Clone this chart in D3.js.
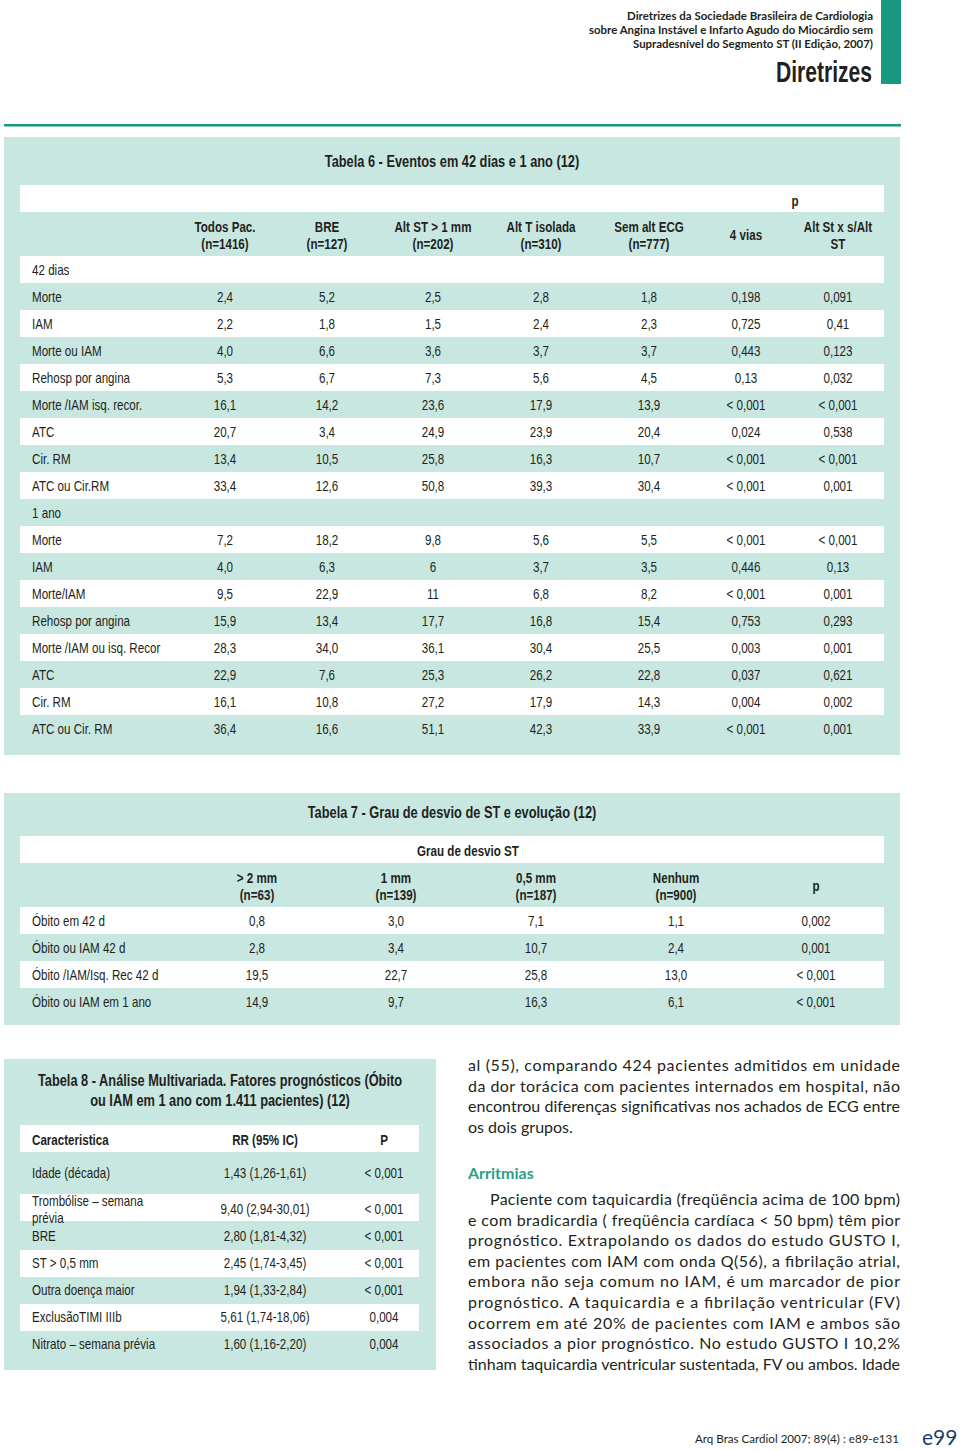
<!DOCTYPE html>
<html>
<head>
<meta charset="utf-8">
<script src="https://cdn.jsdelivr.net/npm/d3@7"></script>
<style>
  body { margin: 0; background: #fff; }
  svg { display: block; }
</style>
</head>
<body>
<div id="page"></div>
<script>
// --- Tabela 6 ---
const t6Columns = ["Todos Pac.|(n=1416)", "BRE|(n=127)", "Alt ST > 1 mm|(n=202)", "Alt T isolada|(n=310)", "Sem alt ECG|(n=777)", "4 vias", "Alt St x s/Alt|ST"];
const t6Labels = ["42 dias", "Morte", "IAM", "Morte ou IAM", "Rehosp por angina", "Morte /IAM isq. recor.", "ATC", "Cir. RM", "ATC ou Cir.RM",
  "1 ano", "Morte", "IAM", "Morte/IAM", "Rehosp por angina", "Morte /IAM ou isq. Recor", "ATC", "Cir. RM", "ATC ou Cir. RM"];
const t6Values = [
  null,
  ["2,4", "5,2", "2,5", "2,8", "1,8", "0,198", "0,091"],
  ["2,2", "1,8", "1,5", "2,4", "2,3", "0,725", "0,41"],
  ["4,0", "6,6", "3,6", "3,7", "3,7", "0,443", "0,123"],
  ["5,3", "6,7", "7,3", "5,6", "4,5", "0,13", "0,032"],
  ["16,1", "14,2", "23,6", "17,9", "13,9", "< 0,001", "< 0,001"],
  ["20,7", "3,4", "24,9", "23,9", "20,4", "0,024", "0,538"],
  ["13,4", "10,5", "25,8", "16,3", "10,7", "< 0,001", "< 0,001"],
  ["33,4", "12,6", "50,8", "39,3", "30,4", "< 0,001", "0,001"],
  null,
  ["7,2", "18,2", "9,8", "5,6", "5,5", "< 0,001", "< 0,001"],
  ["4,0", "6,3", "6", "3,7", "3,5", "0,446", "0,13"],
  ["9,5", "22,9", "11", "6,8", "8,2", "< 0,001", "0,001"],
  ["15,9", "13,4", "17,7", "16,8", "15,4", "0,753", "0,293"],
  ["28,3", "34,0", "36,1", "30,4", "25,5", "0,003", "0,001"],
  ["22,9", "7,6", "25,3", "26,2", "22,8", "0,037", "0,621"],
  ["16,1", "10,8", "27,2", "17,9", "14,3", "0,004", "0,002"],
  ["36,4", "16,6", "51,1", "42,3", "33,9", "< 0,001", "0,001"]
];

// --- Tabela 7 ---
const t7Columns = ["> 2 mm|(n=63)", "1 mm|(n=139)", "0,5 mm|(n=187)", "Nenhum|(n=900)", "p"];
const t7Labels = ["Óbito em 42 d", "Óbito ou IAM 42 d", "Óbito /IAM/Isq. Rec 42 d", "Óbito ou IAM em 1 ano"];
const t7Values = [
  ["0,8", "3,0", "7,1", "1,1", "0,002"],
  ["2,8", "3,4", "10,7", "2,4", "0,001"],
  ["19,5", "22,7", "25,8", "13,0", "< 0,001"],
  ["14,9", "9,7", "16,3", "6,1", "< 0,001"]
];

// --- Tabela 8 ---
const t8Labels = ["Idade (década)", "Trombólise – semana|prévia", "BRE", "ST > 0,5 mm", "Outra doença maior", "ExclusãoTIMI IIIb", "Nitrato – semana prévia"];
const t8RR = ["1,43 (1,26-1,61)", "9,40 (2,94-30,01)", "2,80 (1,81-4,32)", "2,45 (1,74-3,45)", "1,94 (1,33-2,84)", "5,61 (1,74-18,06)", "1,60 (1,16-2,20)"];
const t8P = ["< 0,001", "< 0,001", "< 0,001", "< 0,001", "< 0,001", "0,004", "0,004"];

// texto corrido
const introLines = [
  "al (55), comparando 424 pacientes admitidos em unidade",
  "da dor torácica com pacientes internados em hospital, não",
  "encontrou diferenças significativas nos achados de ECG entre",
  "os dois grupos."
];
const arritmiasLines = [
  "Paciente com taquicardia (freqüência acima de 100 bpm)",
  "e com bradicardia ( freqüência cardíaca < 50 bpm) têm pior",
  "prognóstico. Extrapolando os dados do estudo GUSTO I,",
  "em pacientes com IAM com onda Q(56), a fibrilação atrial,",
  "embora não seja comum no IAM, é um marcador de pior",
  "prognóstico. A taquicardia e a fibrilação ventricular (FV)",
  "ocorrem em até 20% de pacientes com IAM e ambos são",
  "associados a pior prognóstico. No estudo GUSTO I 10,2%",
  "tinham taquicardia ventricular sustentada, FV ou ambos. Idade"
];
const headerLines = [
  "Diretrizes da Sociedade Brasileira de Cardiologia",
  "sobre Angina Instável e Infarto Agudo do Miocárdio sem",
  "Supradesnível do Segmento ST (II Edição, 2007)"
];

const MINT = "#c9e7e1";
const TEAL = "#17987f";
const INK = "#231f20";
const SANS = "'Liberation Sans', Arial, sans-serif";
const BODY = "Lato, 'Open Sans', sans-serif";
const SQUEEZE = 0.8; // efeito Arial Narrow
const FS = 14.5;     // corpo das tabelas
const FT = 16;       // títulos das tabelas

const svg = d3.select("#page").append("svg")
  .attr("width", 960).attr("height", 1451);

// cabeçalho
const hdr = svg.append("g").attr("font-family", BODY).attr("font-weight", 700)
  .attr("font-size", 11.5).attr("fill", INK).attr("text-anchor", "end");
const hdrWidths = [246, 284, 240];
headerLines.forEach((t, i) => {
  hdr.append("text").attr("x", 873).attr("y", 20 + i * 14)
    .attr("textLength", hdrWidths[i]).attr("lengthAdjust", "spacingAndGlyphs").text(t);
});
svg.append("text").attr("x", 872).attr("y", 82).attr("text-anchor", "end")
  .attr("font-family", SANS).attr("font-weight", 700).attr("font-size", 29)
  .attr("fill", INK).attr("textLength", 96).attr("lengthAdjust", "spacingAndGlyphs").text("Diretrizes");
svg.append("rect").attr("x", 881).attr("y", 0).attr("width", 20).attr("height", 84).attr("fill", TEAL);
svg.append("rect").attr("x", 4).attr("y", 124).attr("width", 897).attr("height", 2.5).attr("fill", TEAL);

function multiline(sel, label, cy, lh) {
  const parts = label.split("|");
  parts.forEach((p, i) => {
    sel.append("tspan").attr("x", sel.attr("x"))
      .attr("y", cy + (i - (parts.length - 1) / 2) * lh + 5).text(p);
  });
}

// ---------- Tabela 6 ----------
const t6 = svg.append("g").attr("class", "narrow").attr("font-family", SANS).attr("fill", INK);
t6.append("rect").attr("x", 4).attr("y", 137).attr("width", 896).attr("height", 618).attr("fill", MINT);
t6.append("text").attr("x", 452).attr("y", 167).attr("text-anchor", "middle")
  .attr("font-weight", 700).attr("font-size", FT).text("Tabela 6 - Eventos em 42 dias e 1 ano (12)");
t6.append("rect").attr("x", 20).attr("y", 185).attr("width", 864).attr("height", 27).attr("fill", "#fff");
t6.append("text").attr("x", 795).attr("y", 206).attr("text-anchor", "middle")
  .attr("font-weight", 700).attr("font-size", FS).text("p");

const x6 = d3.scaleOrdinal().domain(t6Columns).range([225, 327, 433, 541, 649, 746, 838]);
const y6 = d3.scaleBand().domain(d3.range(t6Labels.length)).range([256, 256 + 27 * t6Labels.length]);

t6Columns.forEach(c => {
  const t = t6.append("text").attr("x", x6(c)).attr("text-anchor", "middle")
    .attr("font-weight", 700).attr("font-size", FS);
  multiline(t, c, 235, 17);
});

const rows6 = t6.selectAll("g.row").data(t6Labels.map((l, i) => ({ label: l, vals: t6Values[i], i })))
  .join("g").attr("class", "row");
rows6.append("rect").attr("x", 20).attr("width", 864)
  .attr("y", d => y6(d.i)).attr("height", y6.bandwidth())
  .attr("fill", d => d.i % 2 === 0 ? "#fff" : MINT);
rows6.append("text").attr("x", 32).attr("y", d => y6(d.i) + 18.5).attr("font-size", FS).text(d => d.label);
rows6.each(function(d) {
  if (!d.vals) return;
  d3.select(this).selectAll("text.v").data(d.vals).join("text").attr("class", "v")
    .attr("x", (v, j) => x6(t6Columns[j])).attr("y", y6(d.i) + 18.5)
    .attr("text-anchor", "middle").attr("font-size", FS).text(v => v);
});

// ---------- Tabela 7 ----------
const t7 = svg.append("g").attr("class", "narrow").attr("font-family", SANS).attr("fill", INK);
t7.append("rect").attr("x", 4).attr("y", 793).attr("width", 896).attr("height", 232).attr("fill", MINT);
t7.append("text").attr("x", 452).attr("y", 818).attr("text-anchor", "middle")
  .attr("font-weight", 700).attr("font-size", FT).text("Tabela 7 - Grau de desvio de ST e evolução (12)");
t7.append("rect").attr("x", 20).attr("y", 836).attr("width", 864).attr("height", 27).attr("fill", "#fff");
t7.append("text").attr("x", 468).attr("y", 856).attr("text-anchor", "middle")
  .attr("font-weight", 700).attr("font-size", FS).text("Grau de desvio ST");

const x7 = d3.scaleOrdinal().domain(t7Columns).range([257, 396, 536, 676, 816]);
const y7 = d3.scaleBand().domain(d3.range(t7Labels.length)).range([907, 907 + 27 * t7Labels.length]);
t7Columns.forEach(c => {
  const t = t7.append("text").attr("x", x7(c)).attr("text-anchor", "middle")
    .attr("font-weight", 700).attr("font-size", FS);
  multiline(t, c, 886, 17);
});
const rows7 = t7.selectAll("g.row").data(t7Labels.map((l, i) => ({ label: l, vals: t7Values[i], i })))
  .join("g").attr("class", "row");
rows7.append("rect").attr("x", 20).attr("width", 864)
  .attr("y", d => y7(d.i)).attr("height", y7.bandwidth())
  .attr("fill", d => d.i % 2 === 0 ? "#fff" : MINT);
rows7.append("text").attr("x", 32).attr("y", d => y7(d.i) + 18.5).attr("font-size", FS).text(d => d.label);
rows7.each(function(d) {
  d3.select(this).selectAll("text.v").data(d.vals).join("text").attr("class", "v")
    .attr("x", (v, j) => x7(t7Columns[j])).attr("y", y7(d.i) + 18.5)
    .attr("text-anchor", "middle").attr("font-size", FS).text(v => v);
});

// ---------- Tabela 8 ----------
const t8 = svg.append("g").attr("class", "narrow").attr("font-family", SANS).attr("fill", INK);
t8.append("rect").attr("x", 4).attr("y", 1059).attr("width", 432).attr("height", 311).attr("fill", MINT);
const t8title = t8.append("text").attr("x", 220).attr("text-anchor", "middle")
  .attr("font-weight", 700).attr("font-size", FT);
multiline(t8title, "Tabela 8 - Análise Multivariada. Fatores prognósticos (Óbito|ou IAM em 1 ano com 1.411 pacientes) (12)", 1091, 20);
t8.append("rect").attr("x", 20).attr("y", 1125).attr("width", 399).attr("height", 27).attr("fill", "#fff");
const x8 = d3.scaleOrdinal().domain(["Caracteristica", "RR (95% IC)", "P"]).range([32, 265, 384]);
t8.append("text").attr("x", x8("Caracteristica")).attr("y", 1145).attr("font-weight", 700).attr("font-size", FS).text("Caracteristica");
t8.append("text").attr("x", x8("RR (95% IC)")).attr("y", 1145).attr("text-anchor", "middle").attr("font-weight", 700).attr("font-size", FS).text("RR (95% IC)");
t8.append("text").attr("x", x8("P")).attr("y", 1145).attr("text-anchor", "middle").attr("font-weight", 700).attr("font-size", FS).text("P");

// a segunda linha é mais alta (rótulo em duas linhas)
const y8c = i => i === 0 ? 1173 : i === 1 ? 1209 : 1236 + (i - 2) * 27;
const rows8 = t8.selectAll("g.row").data(t8Labels.map((l, i) => ({ label: l, rr: t8RR[i], p: t8P[i], i })))
  .join("g").attr("class", "row");
rows8.filter(d => d.i % 2 === 1).append("rect").attr("x", 20).attr("width", 399)
  .attr("y", d => d.i === 1 ? 1194 : y8c(d.i) - 13).attr("height", 27).attr("fill", "#fff");
rows8.append("text").attr("x", 32).attr("font-size", FS)
  .each(function(d) { multiline(d3.select(this), d.label, y8c(d.i), 17); });
rows8.append("text").attr("x", x8("RR (95% IC)")).attr("y", d => y8c(d.i) + 5)
  .attr("text-anchor", "middle").attr("font-size", FS).text(d => d.rr);
rows8.append("text").attr("x", x8("P")).attr("y", d => y8c(d.i) + 5)
  .attr("text-anchor", "middle").attr("font-size", FS).text(d => d.p);

// estreitar o texto das tabelas
svg.selectAll("g.narrow text").each(function() {
  const spans = this.querySelectorAll("tspan");
  const nodes = spans.length ? Array.from(spans) : [this];
  nodes.forEach(n => {
    const w = n.getComputedTextLength();
    if (w > 0) d3.select(n).attr("textLength", w * SQUEEZE).attr("lengthAdjust", "spacingAndGlyphs");
  });
});

// ---------- texto ----------
const txt = svg.append("g").attr("font-family", BODY).attr("font-size", 16).attr("fill", INK);
introLines.forEach((l, i) => {
  const t = txt.append("text").attr("x", 468).attr("y", 1071 + i * 20.7).text(l);
  if (i < introLines.length - 1) t.attr("textLength", 432).attr("lengthAdjust", "spacing");
});
svg.append("text").attr("x", 468).attr("y", 1179).attr("font-family", BODY)
  .attr("font-weight", 700).attr("font-size", 16).attr("fill", "#2a9f86").text("Arritmias");
arritmiasLines.forEach((l, i) => {
  const x0 = i === 0 ? 490 : 468;
  txt.append("text").attr("x", x0).attr("y", 1205 + i * 20.6)
    .attr("textLength", 900 - x0).attr("lengthAdjust", "spacing").text(l);
});

// rodapé
svg.append("text").attr("x", 899).attr("y", 1443).attr("text-anchor", "end")
  .attr("font-family", BODY).attr("font-size", 11.5).attr("fill", INK)
  .attr("textLength", 204).attr("lengthAdjust", "spacingAndGlyphs").text("Arq Bras Cardiol 2007; 89(4) : e89-e131");
svg.append("text").attr("x", 922).attr("y", 1445).attr("font-family", BODY)
  .attr("font-size", 21).attr("fill", "#1d3d6e").text("e99");
</script>
</body>
</html>
